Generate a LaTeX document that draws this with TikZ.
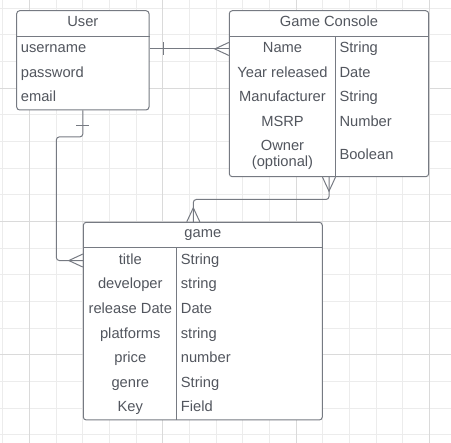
\documentclass[tikz,border=0pt]{standalone}
\usepackage{fontspec}
\setmainfont{Liberation Sans}
\usetikzlibrary{calc}
\definecolor{edgegray}{RGB}{118,122,130}
\definecolor{textgray}{RGB}{82,86,94}
\definecolor{gridminor}{RGB}{236,236,236}
\definecolor{gridmajor}{RGB}{218,218,218}

\begin{document}
\begin{tikzpicture}[x=1pt, y=-1pt,
		entity/.style={draw=edgegray, fill=white, line width=1pt, rounded corners=3pt, inner sep=0pt},
		field/.style={text=textgray, font=\fontsize{14.7}{16.3}\selectfont, inner sep=0pt, text height=10.5pt, text depth=3pt},
		link/.style={draw=edgegray, line width=1pt},
		crow/.pic={\draw[link] (0,-6.5) -- (-14,0) -- (0,6.5);},
		onebar/.pic={\draw[link] (0,-6.5) -- (0,6.5);}]

		\useasboundingbox (0,0) rectangle (451,443);

		% background grid
		\foreach \i in {0,...,16} \draw[gridminor, line width=1pt] ({2.67+26.667*\i},0) -- ++(0,443);
		\foreach \i in {0,...,16} \draw[gridminor, line width=1pt] (0,{8.33+26.667*\i}) -- ++(451,0);
		\foreach \i in {1,6,11,16} \draw[gridmajor, line width=1pt] ({2.67+26.667*\i},0) -- ++(0,443);
		\foreach \i in {3,8,13} \draw[gridmajor, line width=1pt] (0,{8.33+26.667*\i}) -- ++(451,0);

		% User
		\node[entity, minimum width=132.3pt, minimum height=99.3pt] (user) at (82.85,60.35) {};
		\node[field, anchor=base] (usertitle) at (82.85,26.7) {User};
		\node[field, anchor=base west] (uname) at (20.7,52.7) {username};
		\node[field, anchor=base west] (upass) at (20.7,77.2) {password};
		\node[field, anchor=base west] (umail) at (20.7,101.7) {email};
		\draw[link] ([yshift=-26pt]user.north west) -- ([yshift=-26pt]user.north east);

		% Game Console
		\node[entity, minimum width=199.4pt, minimum height=166pt] (console) at (329,93.7) {};
		\node[field, anchor=base] (consoletitle) at (329,26.7) {Game Console};
		\node[field, anchor=base] (cname) at (282.5,52.7) {Name};
		\node[field, anchor=base] (cyear) at (282.5,77.2) {Year released};
		\node[field, anchor=base] (cmaker) at (282.5,101.7) {Manufacturer};
		\node[field, anchor=base] (cmsrp) at (282.5,126.2) {MSRP};
		\node[text=textgray, font=\fontsize{14.7}{16.3}\selectfont, inner sep=0pt, align=center] (cowner) at (282.5,155.2) {Owner\\(optional)};
		\node[field, anchor=base west] (tname) at (339.3,52.7) {String};
		\node[field, anchor=base west] (tyear) at (339.3,77.2) {Date};
		\node[field, anchor=base west] (tmaker) at (339.3,101.7) {String};
		\node[field, anchor=base west] (tmsrp) at (339.3,126.2) {Number};
		\node[field, anchor=base west] (towner) at (339.3,159.3) {Boolean};
		\draw[link] ([yshift=-26pt]console.north west) -- ([yshift=-26pt]console.north east);
		\draw[link] ([xshift=106.4pt,yshift=-26pt]console.north west) -- ([xshift=106.4pt]console.south west);

		% game
		\node[entity, minimum width=239pt, minimum height=197.7pt] (game) at (202.8,321.15) {};
		\node[field, anchor=base] (gametitle) at (202.8,237.7) {game};
		\node[field, anchor=base] (gtitle) at (130.3,264.3) {title};
		\node[field, anchor=base] (gdev) at (130.3,288.9) {developer};
		\node[field, anchor=base] (grelease) at (130.3,313.5) {release Date};
		\node[field, anchor=base] (gplat) at (130.3,338.1) {platforms};
		\node[field, anchor=base] (gprice) at (130.3,362.7) {price};
		\node[field, anchor=base] (ggenre) at (130.3,387.3) {genre};
		\node[field, anchor=base] (gkey) at (130.3,411.9) {Key};
		\node[field, anchor=base west] (ttitle) at (180.7,264.3) {String};
		\node[field, anchor=base west] (tdev) at (180.7,288.9) {string};
		\node[field, anchor=base west] (trelease) at (180.7,313.5) {Date};
		\node[field, anchor=base west] (tplat) at (180.7,338.1) {string};
		\node[field, anchor=base west] (tprice) at (180.7,362.7) {number};
		\node[field, anchor=base west] (tgenre) at (180.7,387.3) {String};
		\node[field, anchor=base west] (tkey) at (180.7,411.9) {Field};
		\draw[link] ([yshift=-26pt]game.north west) -- ([yshift=-26pt]game.north east);
		\draw[link] ([xshift=94pt,yshift=-26pt]game.north west) -- ([xshift=94pt]game.south west);

		% relations
		\draw[link] (user.east |- uname) -- (console.west |- uname);
		\pic at ($(user.east |- uname)+(14.3,0)$) {onebar};
		\pic at (console.west |- uname) {crow};

		\draw[link, rounded corners=3pt] (console.south) -- ++(0,22.3) -| ($(game.north)+(-9.5,0)$);
		\pic[rotate=90] at (console.south) {crow};
		\pic[rotate=-90] at ($(game.north)+(-9.5,0)$) {crow};

		\draw[link, rounded corners=3pt] (user.south) -- ++(0,26.4) -- ++(-26.5,0) |- (game.west |- gtitle);
		\pic[rotate=90] at ($(user.south)+(0,15)$) {onebar};
		\pic at (game.west |- gtitle) {crow};
	\end{tikzpicture}
\end{document}
